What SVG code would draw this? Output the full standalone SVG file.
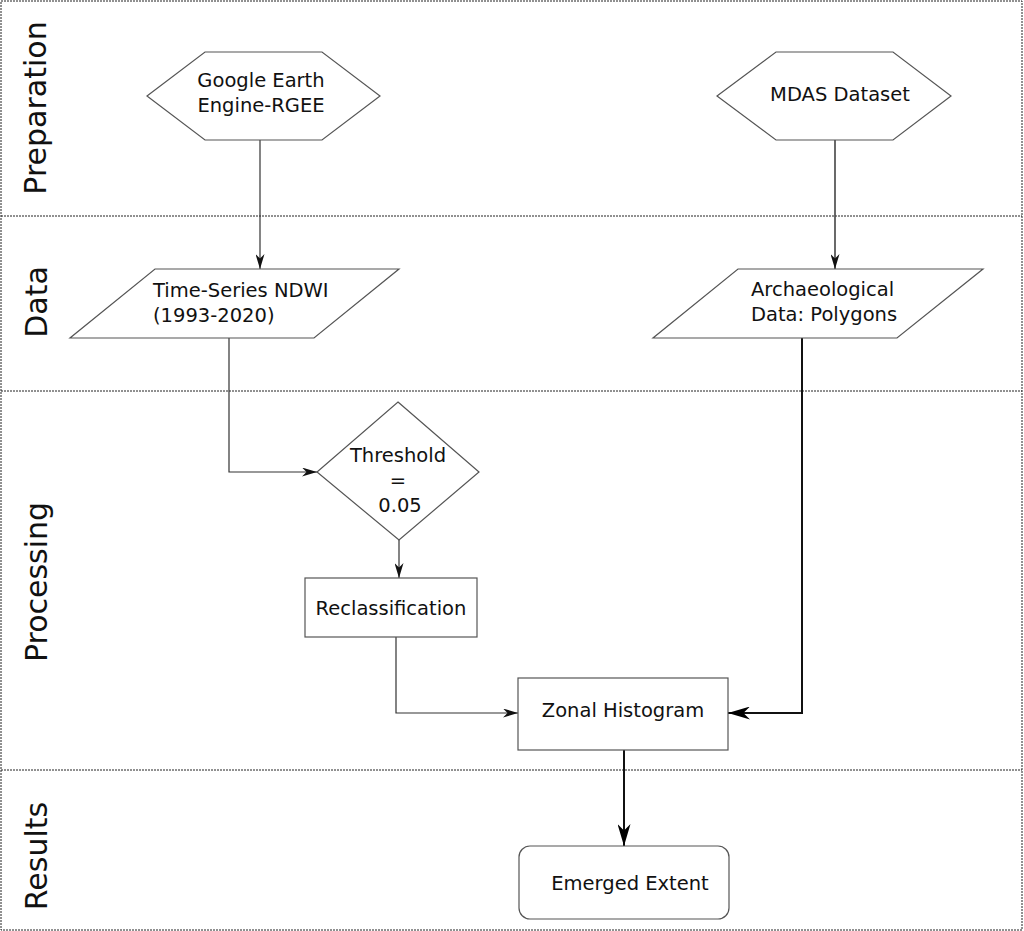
<svg xmlns="http://www.w3.org/2000/svg" width="1024" height="931" viewBox="0 0 1024 931">
  <style>
    .lane { fill: none; stroke: #222; stroke-width: 1; stroke-dasharray: 2 1; }
    .node { fill: #fff; stroke: #555; stroke-width: 1.2; }
    .txt { font-family: "DejaVu Sans", "Liberation Sans", sans-serif; font-size: 19.5px; fill: #111; }
    .mid { text-anchor: middle; }
    .lbl { font-family: "DejaVu Sans", "Liberation Sans", sans-serif; font-size: 30px; fill: #111; text-anchor: middle; }
    .thin { fill: none; stroke: #333; stroke-width: 1.2; }
    .thick { fill: none; stroke: #111; stroke-width: 2; }
  </style>
  <defs>
    <marker id="arrS" viewBox="0 0 10 10" refX="10" refY="5" markerUnits="userSpaceOnUse" markerWidth="15" markerHeight="9" orient="auto" preserveAspectRatio="none">
      <path d="M0,0 L10,5 L0,10 L3,5 Z" fill="#111"/>
    </marker>
    <marker id="arrL" viewBox="0 0 10 10" refX="10" refY="5" markerUnits="userSpaceOnUse" markerWidth="22" markerHeight="13" orient="auto" preserveAspectRatio="none">
      <path d="M0,0 L10,5 L0,10 L3,5 Z" fill="#000"/>
    </marker>
  </defs>

  <rect width="1024" height="931" fill="#fff"/>

  <!-- swimlanes -->
  <g id="lanes">
    <rect class="lane" x="1" y="1" width="1021" height="929"/>
    <line class="lane" x1="1" y1="216" x2="1022" y2="216"/>
    <line class="lane" x1="1" y1="391" x2="1022" y2="391"/>
    <line class="lane" x1="1" y1="770" x2="1022" y2="770"/>
    <text class="lbl" transform="translate(46,108) rotate(-90)">Preparation</text>
    <text class="lbl" transform="translate(47,302) rotate(-90)">Data</text>
    <text class="lbl" transform="translate(47,582) rotate(-90)">Processing</text>
    <text class="lbl" transform="translate(47,856) rotate(-90)">Results</text>
  </g>

  <!-- connectors -->
  <g id="connectors">
    <path class="thin" d="M260,140 V269" marker-end="url(#arrS)"/>
    <path class="thin" d="M835,140 V269" style="stroke:#444;stroke-width:1.6" marker-end="url(#arrS)"/>
    <path class="thin" d="M229,338 V472 H317" marker-end="url(#arrS)"/>
    <path class="thin" d="M399,540 V578" marker-end="url(#arrS)"/>
    <path class="thin" d="M396,637 V713 H518" marker-end="url(#arrS)"/>
    <path class="thick" d="M802,338 V713 H728" marker-end="url(#arrL)"/>
    <path class="thick" d="M624,750 V846" marker-end="url(#arrL)"/>
  </g>

  <g id="google-earth-engine">
    <polygon class="node" points="147,96 205,52 322,52 380,96 322,140 205,140"/>
    <text class="txt mid" x="261" y="87">Google Earth</text>
    <text class="txt mid" x="261" y="112">Engine-RGEE</text>
  </g>

  <g id="mdas-dataset">
    <polygon class="node" points="717,96 776,52 893,52 951,96 893,140 776,140"/>
    <text class="txt mid" x="840" y="101">MDAS Dataset</text>
  </g>

  <g id="time-series-ndwi">
    <polygon class="node" points="155,269 399,269 314,338 70,338"/>
    <text class="txt" x="153" y="297">Time-Series NDWI</text>
    <text class="txt" x="153" y="322">(1993-2020)</text>
  </g>

  <g id="archaeological-data">
    <polygon class="node" points="738,269 983,269 897,338 653,338"/>
    <text class="txt" x="751" y="296">Archaeological</text>
    <text class="txt" x="751" y="321">Data: Polygons</text>
  </g>

  <g id="threshold">
    <polygon class="node" points="398,402 479,472 399,540 317,472"/>
    <text class="txt mid" x="398" y="462">Threshold</text>
    <text class="txt mid" x="398" y="487">=</text>
    <text class="txt mid" x="400" y="512">0.05</text>
  </g>

  <g id="reclassification">
    <rect class="node" x="305" y="578" width="172" height="59"/>
    <text class="txt mid" x="391" y="615">Reclassification</text>
  </g>

  <g id="zonal-histogram">
    <rect class="node" x="518" y="678" width="210" height="72"/>
    <text class="txt mid" x="623" y="717">Zonal Histogram</text>
  </g>

  <g id="emerged-extent">
    <rect class="node" x="519" y="846" width="210" height="73" rx="11" ry="11"/>
    <text class="txt mid" x="630" y="890">Emerged Extent</text>
  </g>
</svg>
